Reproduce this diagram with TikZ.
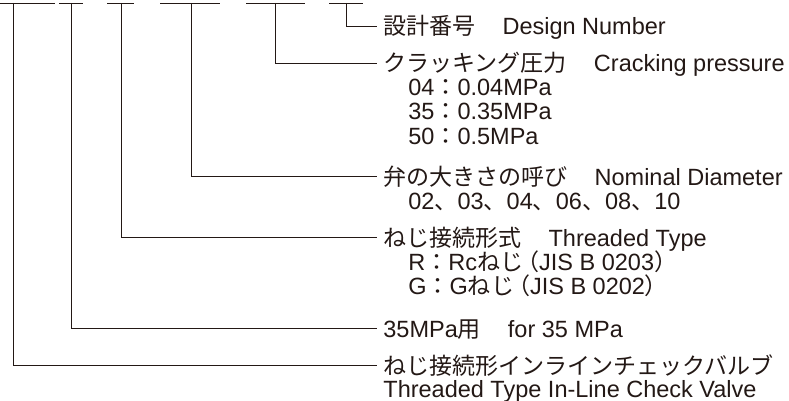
\documentclass[tikz,border=0pt]{standalone}
\usepackage{fontspec}
\setmainfont{Liberation Sans}
\newfontfamily\jp[Scale=0.98]{Noto Sans CJK JP}
\usetikzlibrary{calc}
\definecolor{ink}{HTML}{231815}
\newcommand{\jgap}{\hspace{1.15em}}

\begin{document}
\begin{tikzpicture}[x=1pt,y=-1pt,color=ink,line width=0.8pt,
  every node/.style={font=\fontsize{23.5}{24}\selectfont,inner sep=0pt,anchor=base west},
  head/.style={text height=18pt,text depth=0pt,inner xsep=6pt}]
\useasboundingbox (0,0) rectangle (789,401);

%code fields (top bars)
\draw (0,3)--(55,3);     \coordinate (b1) at (13,3);
\draw (59,3)--(83,3);    \coordinate (b2) at (71,3);
\draw (107,3)--(134,3);  \coordinate (b3) at (121,3);
\draw (160,3)--(220,3);  \coordinate (b4) at (191,3);
\draw (246,3)--(305,3);  \coordinate (b5) at (275,3);
\draw (329,3)--(363,3);  \coordinate (b6) at (346,3);

%labels
\node[head] (design) at (377,35) {{\jp 設計番号}\jgap Design Number};
\node[head] (crack) at (377,72) {{\jp クラッキング圧力}\jgap Cracking pressure};
\node (crackA) at (408,96) {04{\jp ：}0.04MPa};
\node (crackB) at (408,120) {35{\jp ：}0.35MPa};
\node (crackC) at (408,144) {50{\jp ：}0.5MPa};
\node[head] (nominal) at (377,185) {{\jp 弁の大きさの呼び}\jgap Nominal Diameter};
\node (nominalA) at (408,209) {02{\jp 、}03{\jp 、}04{\jp 、}06{\jp 、}08{\jp 、}10};
\node[head] (thread) at (377,246) {{\jp ねじ接続形式}\jgap Threaded Type};
\node (threadR) at (408,270) {R{\jp ：}Rc{\jp ねじ}\hspace{-0.3em}{\jp （}JIS B 0203{\jp ）}};
\node (threadG) at (408,294) {G{\jp ：}G{\jp ねじ}\hspace{-0.3em}{\jp （}JIS B 0202{\jp ）}};
\node[head] (press) at (377,337) {35MPa{\jp 用}\jgap for 35 MPa};
\node[head] (valve) at (377,374) {\jp ねじ接続形インラインチェックバルブ};
\node (valveEn) at (383,397) {Threaded Type In-Line Check Valve};

%leaders
\draw (b6) |- (design.west);
\draw (b5) |- (crack.west);
\draw (b4) |- (nominal.west);
\draw (b3) |- (thread.west);
\draw (b2) |- (press.west);
\draw (b1) |- (valve.west);
\end{tikzpicture}
\end{document}
